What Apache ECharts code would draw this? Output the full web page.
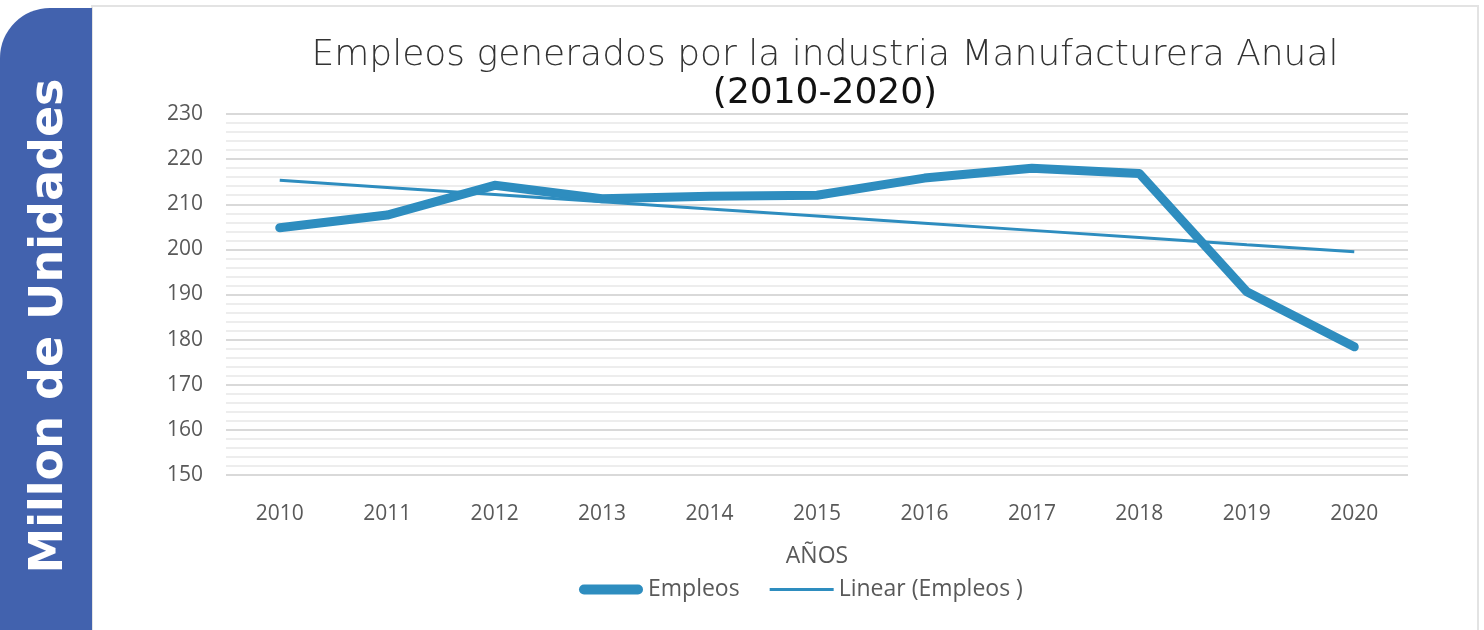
<!DOCTYPE html>
<html>
<head>
<meta charset="utf-8">
<script src="https://cdn.jsdelivr.net/npm/echarts@6/dist/echarts.min.js"></script>
<style>
  html, body { margin: 0; padding: 0; background: #fff; }
  #chart { width: 1484px; height: 630px; }
</style>
</head>
<body>
<div id="chart"></div>
<script>
// datos
const years = ['2010', '2011', '2012', '2013', '2014', '2015', '2016', '2017', '2018', '2019', '2020']
const empleos = [204.8, 207.6, 214.2, 211.2, 211.8, 212.0, 215.8, 218.0, 216.8, 190.6, 178.4]

// linea de tendencia lineal (minimos cuadrados, como Excel)
const linearFit = (vals) => {
    const n = vals.length
    const mx = (n - 1) / 2
    const my = vals.reduce((s, v) => s + v, 0) / n
    let sxy = 0, sxx = 0
    vals.forEach((v, i) => { sxy += (i - mx) * (v - my); sxx += (i - mx) * (i - mx) })
    const b = sxy / sxx
    return vals.map((v, i) => +(my + b * (i - mx)).toFixed(2))
}
const tendencia = linearFit(empleos)

const lineColor = '#2e8dbf'
const labelColor = '#595959'

const chart = echarts.init(document.getElementById('chart'))
const option = {
    backgroundColor: '#fff',
    animation: false,
    title: {
        text: 'Empleos generados por la industria Manufacturera Anual',
        subtext: '(2010-2020)',
        left: 820,
        textAlign: 'center',
        top: 33,
        itemGap: 2,
        textStyle: { fontFamily: 'DejaVu Sans', fontWeight: 'lighter', fontSize: 36, color: '#333' },
        subtextStyle: { fontFamily: 'DejaVu Sans', fontWeight: 'normal', fontSize: 36, color: '#111' }
    },
    grid: { left: 226, right: 76, top: 114, height: 361 },
    legend: {
        bottom: 24,
        left: 574,
        itemGap: 30,
        itemWidth: 64,
        itemHeight: 10,
        textStyle: { fontFamily: 'Open Sans', fontSize: 23, color: labelColor },
        data: [
            { name: 'Empleos', icon: 'path://M5,0H59A5,5,0,0,1,59,10H5A5,5,0,0,1,5,0Z' },
            { name: 'Linear (Empleos )', icon: 'path://M0,0H64V3H0Z' }
        ]
    },
    xAxis: {
        type: 'category',
        data: years,
        name: 'AÑOS',
        nameLocation: 'middle',
        nameGap: 70,
        nameTextStyle: { fontFamily: 'Open Sans', fontSize: 23, color: labelColor },
        axisLine: { show: false },
        axisTick: { show: false },
        axisLabel: { margin: 29, fontFamily: 'Open Sans', fontSize: 21, color: labelColor }
    },
    yAxis: {
        type: 'value',
        min: 150,
        max: 230,
        interval: 10,
        axisLabel: { margin: 23, fontFamily: 'Open Sans', fontSize: 21, color: labelColor },
        splitLine: { lineStyle: { color: '#d9d9d9', width: 2 } },
        minorTick: { show: false, splitNumber: 5 },
        minorSplitLine: { show: true, lineStyle: { color: '#ededed', width: 2 } }
    },
    series: [
        {
            name: 'Empleos',
            type: 'line',
            data: empleos,
            symbol: 'none',
            lineStyle: { color: lineColor, width: 9, cap: 'round', join: 'round' },
            itemStyle: { color: lineColor }
        },
        {
            name: 'Linear (Empleos )',
            type: 'line',
            data: tendencia,
            symbol: 'none',
            lineStyle: { color: lineColor, width: 3 },
            itemStyle: { color: lineColor }
        }
    ],
    graphic: [
        {
            type: 'rect',
            shape: { x: 92, y: 6, width: 1386, height: 640 },
            style: { fill: 'none', stroke: '#e3e3e3', lineWidth: 2 }
        },
        {
            type: 'rect',
            shape: { x: 0, y: 8, width: 92, height: 640, r: [50, 0, 0, 0] },
            style: { fill: '#4262ae' }
        },
        {
            type: 'text',
            x: 50,
            y: 326,
            rotation: Math.PI / 2,
            style: {
                text: 'Millon de Unidades',
                fill: '#fff',
                font: 'bold 46px "DejaVu Sans"',
                align: 'center',
                verticalAlign: 'middle'
            }
        }
    ]
}
chart.setOption(option)
</script>
</body>
</html>
